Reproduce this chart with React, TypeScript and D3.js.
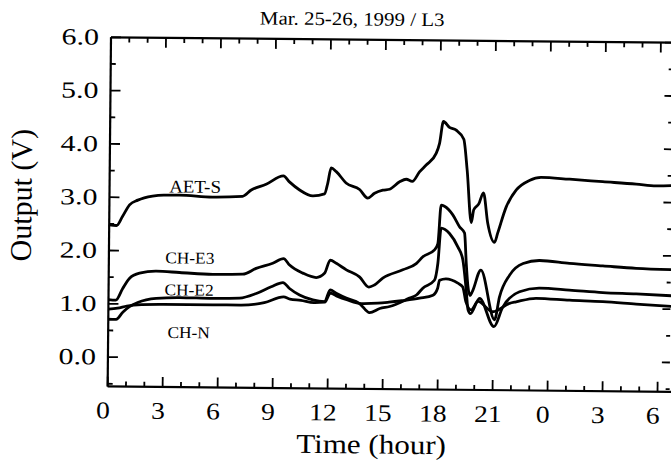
import React from 'react';
import * as d3 from 'd3';

const title = 'Mar. 25-26, 1999 / L3';
const xTickHours = [0, 3, 6, 9, 12, 15, 18, 21, 24, 27, 30];
const xTickLabels = ['0', '3', '6', '9', '12', '15', '18', '21', '0', '3', '6'];
const yTickValues = [0, 1, 2, 3, 4, 5, 6];
const yTickLabels = ['0.0', '1.0', '2.0', '3.0', '4.0', '5.0', '6.0'];

const aetS: [number, number][] = [
  [0, 2.48], [0.4, 2.47], [0.72, 2.64], [1.1, 2.86], [1.55, 2.95], [2.35, 3.03], [3.0, 3.05],
  [3.82, 3.05], [5.62, 3.02], [7.26, 3.04], [7.73, 3.16], [8.54, 3.27], [9.48, 3.43], [9.81, 3.32],
  [10.37, 3.17], [11.09, 3.06], [11.73, 3.1], [11.9, 3.3], [12.08, 3.59], [12.36, 3.52], [12.9, 3.31],
  [13.64, 3.19], [14.09, 3.03], [14.46, 3.12], [14.91, 3.18], [15.28, 3.2], [15.82, 3.34], [16.18, 3.39],
  [16.51, 3.35], [16.9, 3.53], [17.26, 3.66], [17.8, 3.88], [17.98, 4.07], [18.18, 4.48], [18.51, 4.37],
  [18.88, 4.32], [19.3, 4.15], [19.5, 3.57], [19.75, 2.59], [19.88, 2.83], [20.15, 2.94], [20.4, 3.15],
  [20.65, 2.58], [21.03, 2.22], [21.2, 2.4], [21.65, 2.89], [22.19, 3.21], [22.9, 3.39], [23.54, 3.45],
  [25.09, 3.42], [26.9, 3.38], [28.73, 3.34], [29.82, 3.31], [30.8, 3.32],
];

const chE3: [number, number][] = [
  [0, 1.08], [0.4, 1.07], [0.77, 1.29], [1.13, 1.48], [1.68, 1.58], [2.59, 1.62], [3.86, 1.6],
  [5.68, 1.57], [7.31, 1.58], [8.04, 1.69], [8.94, 1.79], [9.53, 1.88], [9.86, 1.76], [10.59, 1.61],
  [11.32, 1.53], [11.77, 1.61], [12.08, 1.86], [12.41, 1.8], [12.96, 1.68], [13.68, 1.55], [14.2, 1.36],
  [14.5, 1.4], [14.95, 1.53], [16.04, 1.69], [16.77, 1.81], [17.13, 1.94], [17.76, 2.07], [17.94, 2.19],
  [18.1, 2.91], [18.28, 2.89], [18.74, 2.73], [19.11, 2.51], [19.39, 2.39], [19.5, 1.82], [19.6, 1.4],
  [19.72, 1.22], [19.85, 1.3], [20.3, 1.7], [21.07, 0.77], [21.33, 1.2], [21.87, 1.61], [22.6, 1.83],
  [23.5, 1.89], [25.13, 1.84], [26.95, 1.8], [28.77, 1.76], [30.8, 1.74],
];

const chE2: [number, number][] = [
  [0, 0.71], [0.43, 0.71], [0.8, 0.85], [1.15, 0.95], [1.6, 1.03], [2.6, 1.11], [3.87, 1.13],
  [5.69, 1.12], [7.15, 1.13], [8.06, 1.22], [8.87, 1.35], [9.51, 1.43], [9.87, 1.32], [10.42, 1.2],
  [11.15, 1.11], [11.79, 1.08], [12.09, 1.3], [12.42, 1.24], [12.97, 1.15], [13.7, 1.05], [14.25, 0.88],
  [14.8, 0.96], [15.34, 1.0], [16.42, 1.16], [16.8, 1.22], [17.14, 1.35], [17.77, 1.5], [17.95, 1.82],
  [18.11, 2.48], [18.57, 2.38], [19.03, 2.13], [19.31, 1.89], [19.51, 1.32], [19.62, 0.95], [19.75, 0.88],
  [20.24, 1.17], [21.04, 0.64], [21.5, 1.0], [22.42, 1.3], [23.51, 1.37], [25.14, 1.34], [26.96, 1.3],
  [28.78, 1.28], [30.8, 1.25],
];

const chN: [number, number][] = [
  [0, 0.9], [0.5, 0.92], [1.0, 0.96], [1.8, 0.99], [3, 1.0], [5.7, 1.0], [7.2, 1.0], [8.5, 1.05],
  [9.55, 1.16], [9.9, 1.12], [10.5, 1.1], [11.2, 1.06], [11.8, 1.07], [12.1, 1.24], [12.5, 1.18],
  [13.0, 1.12], [13.8, 1.05], [14.7, 1.06], [15.3, 1.08], [16.0, 1.11], [16.97, 1.16], [17.7, 1.22],
  [17.95, 1.35], [18.05, 1.5], [18.4, 1.53], [19.05, 1.45], [19.32, 1.38], [19.5, 1.1], [19.79, 0.95],
  [20.16, 1.11], [20.97, 0.92], [21.88, 1.08], [22.24, 1.11], [23.33, 1.18], [25.15, 1.15],
  [26.97, 1.13], [28.79, 1.09], [30.8, 1.05],
];

const series = [
  { name: 'AET-S', data: aetS, lx: 196.5, lv: 3.1, fs: 18 },
  { name: 'CH-E3', data: chE3, lx: 192, lv: 1.77, fs: 16.5 },
  { name: 'CH-E2', data: chE2, lx: 191.5, lv: 1.17, fs: 16.5 },
  { name: 'CH-N', data: chN, lx: 191.5, lv: 0.37, fs: 16.5 },
];

const FONT = '"Liberation Serif", "Times New Roman", serif';

export default function App() {
  const left = 111;
  const top = 37.3;
  const pxPerHour = 18.33;
  const pxPerUnit = 53.3;
  const x = d3.scaleLinear().domain([0, 31]).range([left, left + 31 * pxPerHour]);
  const y = d3.scaleLinear().domain([-0.55, 6]).range([top + 6.55 * pxPerUnit, top]);
  const x0 = x(0);
  const x1 = x(31);
  const y0 = y(-0.55);
  const y1 = y(6);
  const line = d3
    .line<[number, number]>()
    .x((d) => x(d[0]))
    .y((d) => y(d[1]))
    .curve(d3.curveMonotoneX);

  const hourTicks = d3.range(0, 31, 1);
  const minorY = d3.range(-0.5, 6.01, 0.5);

  return (
    <svg
      width={671}
      height={464}
      style={{ position: 'absolute', left: 0, top: 0, background: '#fff' }}
    >
      <rect x={0} y={0} width={671} height={464} fill="#fff" />
      <g transform={`rotate(0.55, ${left}, ${top})`}>
        <text
          transform={`translate(352, 23) scale(1.1, 1)`}
          textAnchor="middle"
          fontFamily={FONT}
          fontSize={19}
          fill="#000"
        >
          {title}
        </text>
        {/* frame */}
        <line x1={x0} x2={x1} y1={y1} y2={y1} stroke="#000" strokeWidth={2.2} />
        <line x1={x0} x2={x1} y1={y0} y2={y0} stroke="#000" strokeWidth={2.2} />
        <line x1={x0} x2={x0} y1={y1} y2={y0} stroke="#000" strokeWidth={2.2} />
        {/* x ticks */}
        {hourTicks.map((h) => {
          const major = h % 3 === 0;
          const len = major ? 10 : 5;
          return (
            <g key={'xt' + h}>
              <line x1={x(h)} x2={x(h)} y1={y1} y2={y1 + len} stroke="#000" strokeWidth={1.8} />
              <line x1={x(h)} x2={x(h)} y1={y0} y2={y0 - len} stroke="#000" strokeWidth={1.8} />
            </g>
          );
        })}
        {/* y ticks */}
        {minorY.map((v) => {
          const major = Math.abs(v - Math.round(v)) < 1e-6;
          const len = major ? 10 : 5;
          return (
            <g key={'yt' + v}>
              <line x1={x0} x2={x0 + len} y1={y(v)} y2={y(v)} stroke="#000" strokeWidth={1.8} />
              <line x1={673} x2={673 - (major ? 8 : 4)} y1={y(v)} y2={y(v)} stroke="#000" strokeWidth={1.8} />
            </g>
          );
        })}
        {/* y tick labels */}
        {yTickValues.map((v, i) => (
          <text
            key={'yl' + v}
            transform={`translate(${x0 - 12}, ${y(v) + 7.5}) scale(1.3, 1)`}
            textAnchor="end"
            fontFamily={FONT}
            fontSize={23}
            fill="#000"
          >
            {yTickLabels[i]}
          </text>
        ))}
        {/* x tick labels */}
        {xTickHours.map((h, i) => (
          <text
            key={'xl' + h}
            transform={`translate(${x(h) - 4.5}, ${y0 + 32}) scale(1.15, 1)`}
            textAnchor="middle"
            fontFamily={FONT}
            fontSize={24}
            fill="#000"
          >
            {xTickLabels[i]}
          </text>
        ))}
        <text
          transform={`translate(375, 451) scale(1.15, 1)`}
          textAnchor="middle"
          fontFamily={FONT}
          fontSize={27}
          fill="#000"
        >
          Time (hour)
        </text>
        <text
          transform={`translate(33, 196) rotate(-90)`}
          textAnchor="middle"
          fontFamily={FONT}
          fontSize={30}
          fill="#000"
        >
          Output (V)
        </text>
        {/* series */}
        {series.map((s) => (
          <path
            key={s.name}
            d={line(s.data) || ''}
            fill="none"
            stroke="#000"
            strokeWidth={2.8}
            strokeLinejoin="round"
          />
        ))}
        {series.map((s) => (
          <text
            key={'lab' + s.name}
            transform={`translate(${s.lx}, ${y(s.lv)}) scale(1.05, 1)`}
            textAnchor="middle"
            fontFamily={FONT}
            fontSize={s.fs}
            fill="#000"
          >
            {s.name}
          </text>
        ))}
      </g>
    </svg>
  );
}
